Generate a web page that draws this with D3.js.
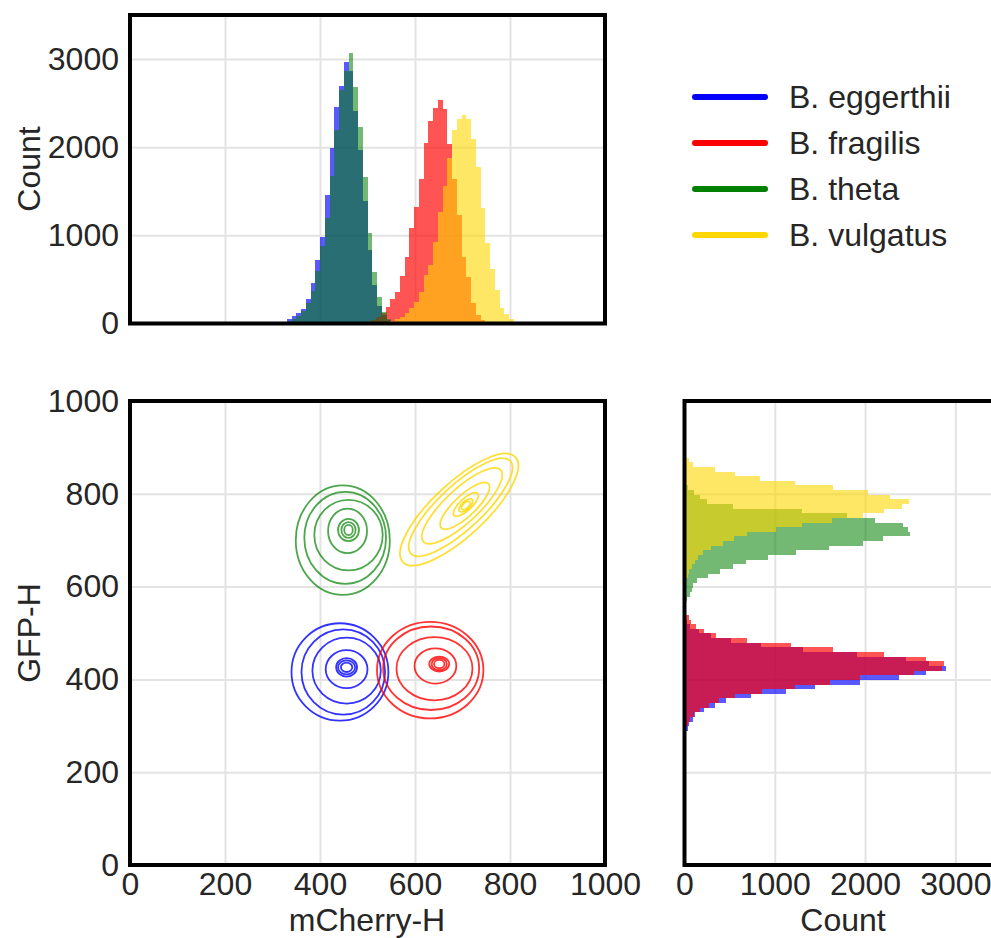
<!DOCTYPE html>
<html>
<head>
<meta charset="utf-8">
<script src="https://cdn.jsdelivr.net/npm/d3@7"></script>
<style>
  body { margin: 0; background: #fff; }
  text { font-family: "Liberation Sans", Arial, sans-serif; fill: #262626; }
</style>
</head>
<body>
<div id="chart"></div>
<script>
// species and colours
var species = ["B. eggerthii", "B. fragilis", "B. theta", "B. vulgatus"];
var colors = ["#0000ff", "#ff0000", "#008000", "#ffd700"];
var fillAlpha = [0.65, 0.67, 0.55, 0.6];

// mCherry-H histograms (bin width 10), first bin start + counts
var binWidth = 10;
var topStart = [310, 498, 320, 528];
var blueTop = [5, 15, 53, 83, 121, 170, 280, 461, 718, 978, 1454, 1990, 2451, 2700, 2969, 2867, 2406, 1972, 1386, 831, 442, 200, 100, 40, 10];
var redTop = [15, 40, 70, 120, 191, 278, 361, 538, 757, 1086, 1324, 1634, 2049, 2295, 2445, 2539, 2430, 2034, 1634, 1229, 757, 531, 228, 96, 40];
var greenTop = [10, 26, 53, 83, 140, 234, 366, 593, 876, 1197, 1669, 2191, 2651, 2867, 3067, 2682, 2228, 1658, 1027, 585, 303, 134, 50, 15];
var goldTop = [8, 15, 25, 47, 70, 123, 172, 247, 361, 550, 663, 927, 1267, 1558, 1872, 2200, 2325, 2370, 2325, 2098, 1770, 1313, 916, 614, 380, 179, 104, 47, 15];

// GFP-H histograms (bin width 10), first bin start + counts
var rightStart = [279, 279, 558, 598];
var blueRight = [15, 38, 53, 90, 120, 212, 341, 463, 740, 1123, 1448, 1939, 2381, 2677, 2895, 2703, 2452, 1909, 1308, 851, 518, 293, 157, 60, 30, 10];
var redRight = [5, 15, 38, 65, 101, 175, 268, 385, 563, 858, 1227, 1607, 1939, 2545, 2850, 2869, 2677, 2212, 1644, 1179, 696, 352, 212, 127, 76, 46, 20];
var greenRight = [15, 30, 60, 80, 98, 142, 264, 393, 541, 681, 921, 1235, 1600, 1980, 2195, 2497, 2471, 2423, 2110, 1800, 1305, 540, 250, 170, 110, 40, 15];
var goldRight = [10, 20, 39, 54, 83, 113, 150, 201, 297, 426, 544, 692, 1017, 1300, 1630, 1973, 2209, 2405, 2486, 2276, 2029, 1641, 1224, 836, 559, 338, 98, 53, 20];

// density contour rings: [centre x, centre y, semi-axis a, semi-axis b, angle deg]
var blueRings = [[442, 416, 102, 105, 0], [449, 416, 88, 92, 0], [456, 419, 72, 71, 0], [456, 422, 44, 41, 0], [456, 426, 22, 20, 0], [456, 426, 18, 15, 0], [456, 426, 12, 10, 0]];
var redRings = [[632, 420, 112, 104, 0], [634, 424, 101, 90, 0], [641, 423, 80, 68, 0], [643, 429, 44, 38, 0], [651, 433, 21, 16, 0], [651, 433, 16, 13, 0], [651, 433, 11, 9, 0]];
var greenRings = [[448, 700, 99, 118, 0], [453, 705, 86, 99, 0], [460, 711, 72, 76, 0], [458, 720, 41, 48, 0], [460, 722, 22, 24, 0], [460, 722, 15, 17, 0], [460, 722, 9, 11, 0]];
var goldRings = [[693, 766, 162, 57, 43], [696, 771, 143, 47, 43], [699, 774, 111, 36, 43], [705, 774, 68, 23, 43], [707, 777, 34, 13, 43], [707, 775, 18, 8.5, 43], [707, 775, 11, 6, 43]];

var axisTicks = [0, 200, 400, 600, 800, 1000];
var countTicks = [0, 1000, 2000, 3000];

var topHists = [blueTop, redTop, greenTop, goldTop];
var rightHists = [blueRight, redRight, greenRight, goldRight];
var rings = [blueRings, redRings, greenRings, goldRings];

var fontSize = "32px";
var width = 991, height = 938;
var svg = d3.select("#chart").append("svg")
    .attr("width", width)
    .attr("height", height);

// scales
var x = d3.scaleLinear().domain([0, 1000]).range([130, 605]);
var y = d3.scaleLinear().domain([0, 1000]).range([865, 401]);
var yTop = d3.scaleLinear().domain([0, 3500]).range([323.5, 15]);
var xRight = d3.scaleLinear().domain([0, 3500]).range([684.5, 1000.5]);

var gridColor = "#e3e3e3";

function grid(g) {
    g.selectAll(".domain").remove();
    g.selectAll("text").remove();
    g.selectAll("line").attr("stroke", gridColor).attr("stroke-width", 2);
}

// grids
svg.append("g").attr("transform", "translate(0,15)")
    .call(d3.axisBottom(x).tickValues([200, 400, 600, 800]).tickSize(308.5)).call(grid);
svg.append("g").attr("transform", "translate(130,0)")
    .call(d3.axisRight(yTop).tickValues([1000, 2000, 3000]).tickSize(475)).call(grid);
svg.append("g").attr("transform", "translate(0,401)")
    .call(d3.axisBottom(x).tickValues([200, 400, 600, 800]).tickSize(464)).call(grid);
svg.append("g").attr("transform", "translate(130,0)")
    .call(d3.axisRight(y).tickValues([200, 400, 600, 800]).tickSize(475)).call(grid);
svg.append("g").attr("transform", "translate(0,401)")
    .call(d3.axisBottom(xRight).tickValues([1000, 2000, 3000]).tickSize(464)).call(grid);
svg.append("g").attr("transform", "translate(684.5,0)")
    .call(d3.axisRight(y).tickValues([200, 400, 600, 800]).tickSize(320)).call(grid);

// top histograms
topHists.forEach(function (counts, i) {
    svg.append("g").selectAll("rect")
        .data(counts)
        .enter().append("rect")
        .attr("x", (d, j) => x(topStart[i] + j * binWidth))
        .attr("width", (d, j) => x(topStart[i] + (j + 1) * binWidth) - x(topStart[i] + j * binWidth))
        .attr("y", d => yTop(d))
        .attr("height", d => yTop(0) - yTop(d))
        .attr("fill", colors[i])
        .attr("fill-opacity", fillAlpha[i])
        .attr("shape-rendering", "crispEdges");
});

// right histograms
rightHists.forEach(function (counts, i) {
    svg.append("g").selectAll("rect")
        .data(counts)
        .enter().append("rect")
        .attr("y", (d, j) => y(rightStart[i] + (j + 1) * binWidth))
        .attr("height", (d, j) => y(rightStart[i] + j * binWidth) - y(rightStart[i] + (j + 1) * binWidth))
        .attr("x", xRight(0))
        .attr("width", d => xRight(d) - xRight(0))
        .attr("fill", colors[i])
        .attr("fill-opacity", fillAlpha[i])
        .attr("shape-rendering", "crispEdges");
});

// contours
rings.forEach(function (set, i) {
    svg.append("g").selectAll("ellipse")
        .data(set)
        .enter().append("ellipse")
        .attr("cx", d => x(d[0]))
        .attr("cy", d => y(d[1]))
        .attr("rx", d => x(d[0] + d[2]) - x(d[0]))
        .attr("ry", d => y(d[1]) - y(d[1] + d[3]))
        .attr("transform", d => "rotate(" + (-d[4]) + "," + x(d[0]) + "," + y(d[1]) + ")")
        .attr("fill", "none")
        .attr("stroke", colors[i])
        .attr("stroke-opacity", i == 2 ? 0.7 : 0.8)
        .attr("stroke-width", 1.8);
});

// frames
function frame(x0, y0, x1, y1) {
    svg.append("rect")
        .attr("x", x0).attr("y", y0)
        .attr("width", x1 - x0).attr("height", y1 - y0)
        .attr("fill", "none")
        .attr("stroke", "#000")
        .attr("stroke-width", 4);
}
frame(x(0), yTop(3500), x(1000), yTop(0));
frame(x(0), y(1000), x(1000), y(0));
frame(xRight(0), y(1000), xRight(3500), y(0));

// tick labels
function labels(g) {
    g.selectAll(".domain").remove();
    g.selectAll("line").remove();
    g.selectAll("text").style("font-size", fontSize).attr("fill", "#262626")
        .style("font-family", "'Liberation Sans', Arial, sans-serif");
}
var fmt = d3.format("d");
svg.append("g").attr("transform", "translate(130,0)")
    .call(d3.axisLeft(yTop).tickValues(countTicks).tickFormat(fmt).tickSize(0).tickPadding(11)).call(labels);
svg.append("g").attr("transform", "translate(130,0)")
    .call(d3.axisLeft(y).tickValues(axisTicks).tickFormat(fmt).tickSize(0).tickPadding(11)).call(labels);
svg.append("g").attr("transform", "translate(0,865)")
    .call(d3.axisBottom(x).tickValues(axisTicks).tickFormat(fmt).tickSize(0).tickPadding(7)).call(labels);
svg.append("g").attr("transform", "translate(0,865)")
    .call(d3.axisBottom(xRight).tickValues(countTicks).tickFormat(fmt).tickSize(0).tickPadding(7)).call(labels);

// axis titles
svg.append("text").attr("transform", "translate(40,169) rotate(-90)")
    .attr("text-anchor", "middle").style("font-size", fontSize).text("Count");
svg.append("text").attr("transform", "translate(40,633) rotate(-90)")
    .attr("text-anchor", "middle").style("font-size", fontSize).text("GFP-H");
svg.append("text").attr("x", 367).attr("y", 931)
    .attr("text-anchor", "middle").style("font-size", fontSize).text("mCherry-H");
svg.append("text").attr("x", 843).attr("y", 931)
    .attr("text-anchor", "middle").style("font-size", fontSize).text("Count");

// legend
var legend = svg.append("g").selectAll("g")
    .data(species)
    .enter().append("g")
    .attr("transform", (d, i) => "translate(695," + (97 + i * 46) + ")");
legend.append("line")
    .attr("x1", 0).attr("x2", 70)
    .attr("stroke", (d, i) => colors[i])
    .attr("stroke-width", 6)
    .attr("stroke-linecap", "round");
legend.append("text")
    .attr("x", 94).attr("dy", "0.35em")
    .style("font-size", fontSize)
    .text(d => d);
</script>
</body>
</html>
